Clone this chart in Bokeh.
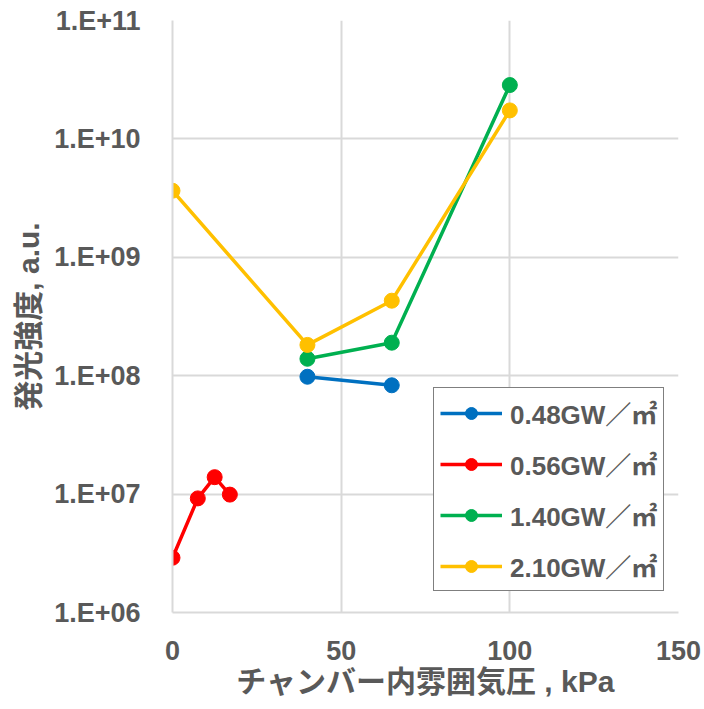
from bokeh.plotting import figure
from bokeh.models import FixedTicker, CustomJSTickFormatter, Range1d, Legend, LegendItem
from bokeh.embed import file_html
from bokeh.resources import INLINE

# Chamber pressure (kPa) and emission intensity (a.u.) for each irradiance
series_names = ["0.48GW／㎡", "0.56GW／㎡", "1.40GW／㎡", "2.10GW／㎡"]
series_colors = ["#0070C0", "#FF0000", "#00B050", "#FFC000"]

p048_x = [40, 65]
p048_y = [9.8e7, 8.3e7]

p056_x = [0, 7.5, 12.5, 17]
p056_y = [2.9e6, 9.2e6, 1.39e7, 9.9e6]

p140_x = [40, 65, 100]
p140_y = [1.39e8, 1.9e8, 2.85e10]

p210_x = [0, 40, 65, 100]
p210_y = [3.65e9, 1.82e8, 4.3e8, 1.74e10]

x_ticks = [0, 50, 100, 150]
y_ticks = [1e6, 1e7, 1e8, 1e9, 1e10, 1e11]

FONT = "'Liberation Sans', 'Noto Sans CJK JP', sans-serif"
TEXT = "#595959"
GRID = "#D9D9D9"

p = figure(width=704, height=709, y_axis_type="log",
           x_range=Range1d(0, 150), y_range=Range1d(1e6, 1e11),
           output_backend="svg", toolbar_location=None,
           min_border_left=172, min_border_right=26,
           min_border_top=20, min_border_bottom=97)
p.outline_line_color = None
p.background_fill_color = "white"

for ax in (p.xaxis[0], p.yaxis[0]):
    ax.axis_line_color = GRID
    ax.axis_line_width = 2
    ax.major_tick_line_color = None
    ax.minor_tick_line_color = None
    ax.major_label_text_font = FONT
    ax.major_label_text_font_style = "bold"
    ax.major_label_text_font_size = "27px"
    ax.major_label_text_color = TEXT
    ax.axis_label_text_font = FONT
    ax.axis_label_text_font_style = "bold"
    ax.axis_label_text_font_size = "30px"
    ax.axis_label_text_color = TEXT

p.xaxis.ticker = FixedTicker(ticks=x_ticks)
p.yaxis.ticker = FixedTicker(ticks=y_ticks, minor_ticks=[])
p.yaxis.formatter = CustomJSTickFormatter(code="""
    const e = Math.round(Math.log10(tick));
    return "1.E+" + String(e).padStart(2, "0");
""")
p.xaxis.major_label_standoff = 22
p.yaxis.major_label_standoff = 26
p.xaxis.axis_label = "チャンバー内雰囲気圧 , kPa"
p.yaxis.axis_label = "発光強度, a.u."
p.xaxis.axis_label_standoff = 2
p.yaxis.axis_label_standoff = 6

p.xgrid.ticker = FixedTicker(ticks=x_ticks)
p.ygrid.ticker = FixedTicker(ticks=y_ticks, minor_ticks=[])
for g in (p.xgrid[0], p.ygrid[0]):
    g.grid_line_color = GRID
    g.grid_line_width = 2

items = []
data = [(p048_x, p048_y), (p056_x, p056_y), (p140_x, p140_y), (p210_x, p210_y)]
for (xs, ys), name, color in zip(data, series_names, series_colors):
    ln = p.line(xs, ys, line_color=color, line_width=3.5)
    sc = p.scatter(xs, ys, size=15, fill_color=color, line_color=color)
    items.append(LegendItem(label=name, renderers=[ln, sc]))

legend = Legend(items=items, location=(261, 21))
legend.border_line_color = "black"
legend.border_line_width = 1.5
legend.background_fill_alpha = 1
legend.label_text_font = FONT
legend.label_text_font_style = "bold"
legend.label_text_font_size = "26px"
legend.label_text_color = TEXT
legend.glyph_width = 62
legend.glyph_height = 30
legend.label_height = 30
legend.label_standoff = 8
legend.spacing = 14
legend.padding = 6
legend.margin = 0
p.add_layout(legend, "center")

open("out.html", "w").write(file_html(p, INLINE))
